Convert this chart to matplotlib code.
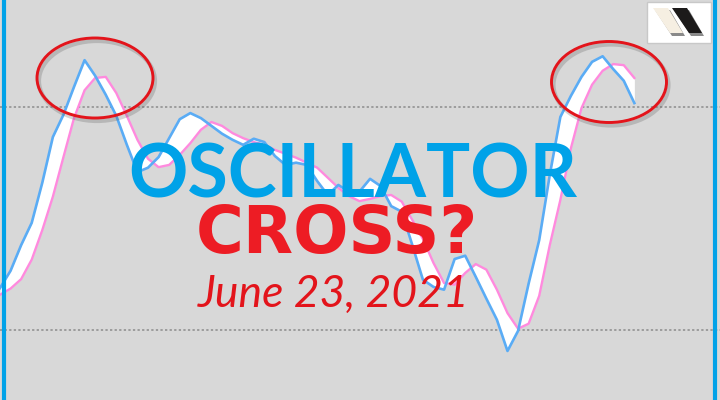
import numpy as np
import matplotlib.pyplot as plt
from matplotlib.patches import Ellipse, Polygon, Rectangle

# oscillator values (fast = blue, slow = pink)
fast_line = [37.5, 40.6, 45.2, 49.2, 56.4, 64.6, 68.6, 73.6, 78.4, 75.6,
             72.2, 68.4, 63.2, 58.3, 59.1, 61.0, 64.4, 67.8, 68.9, 68.0,
             66.6, 65.2, 64.1, 63.2, 64.3, 63.7, 61.2, 59.6, 60.0, 59.6,
             56.7, 54.2, 56.0, 54.8, 54.8, 57.1, 55.8, 52.2, 51.2, 45.2,
             39.0, 37.7, 37.2, 42.7, 43.3, 39.5, 35.6, 31.8, 26.2, 29.8,
             38.3, 46.1, 57.8, 68.2, 72.0, 75.4, 78.1, 79.1, 76.8, 74.7,
             70.7]
slow_line = [36.3, 37.4, 39.1, 42.6, 47.9, 53.9, 61.0, 68.0, 73.0, 75.2,
             75.4, 72.5, 68.4, 64.1, 60.7, 59.2, 59.6, 61.4, 63.5, 65.9,
             67.3, 66.6, 65.3, 64.4, 63.7, 63.2, 62.3, 61.6, 60.9, 60.0,
             59.1, 57.3, 55.5, 54.0, 53.1, 53.5, 54.0, 54.2, 53.0, 49.7,
             46.3, 42.0, 38.4, 38.1, 40.2, 41.8, 40.8, 37.2, 33.0, 30.2,
             31.1, 36.1, 45.2, 53.3, 62.6, 69.8, 74.0, 76.5, 77.7, 77.5,
             75.2]
levels = [70, 30]
title_top = "OSCILLATOR"
title_bottom = "CROSS?"
date_text = "June 23, 2021"

days = np.arange(len(fast_line))

W, H = 720, 400
def px(x, y):
    # figure pixel -> axes fraction (axes fills the figure)
    return (x / W, 1 - y / H)

fig = plt.figure(figsize=(7.2, 4), dpi=100)
fig.patch.set_facecolor('#d8d8d8')
ax = fig.add_axes([0, 0, 1, 1])
ax.set_xlim(0, 68.1)
ax.set_ylim(17.4, 89.2)
ax.axis('off')

for lv in levels:
    ax.axhline(lv, color='#8c8c8c', lw=1.1, ls=(0, (1.5, 1.5)), zorder=1)

ax.fill_between(days, fast_line, slow_line, color='white', lw=0, zorder=2)
ax.plot(days, slow_line, color='#ff8ade', lw=1.7, zorder=3)
ax.plot(days, fast_line, color='#5aacf5', lw=1.9, zorder=4)

# blue side bars
for x in (4, 715):
    ax.plot([x / W, x / W], [0, 1], color='#00a2e8', lw=3, transform=ax.transAxes,
            solid_capstyle='butt', zorder=6)

# circled peaks
for cx, cy, w, h in [(95, 78, 116, 80), (609, 82, 115, 81)]:
    sh = Ellipse(px(cx + 2, cy + 3), w / W, h / H, transform=ax.transAxes,
                 fill=False, ec='#555555', lw=3, alpha=0.25, zorder=7)
    ax.add_patch(sh)
    el = Ellipse(px(cx, cy), w / W, h / H, transform=ax.transAxes,
                 fill=False, ec='#e3141b', lw=2.1, zorder=8)
    ax.add_patch(el)

# titles
ax.text(*px(353, 198), title_top, transform=ax.transAxes, ha='center', va='baseline',
        fontsize=53, fontweight='bold', family='Lato', color='#00a2e8', zorder=9)
ax.text(*px(337, 253), title_bottom, transform=ax.transAxes, ha='center', va='baseline',
        fontsize=47, fontweight='bold', family='DejaVu Sans', color='#ed1c24', zorder=9)
ax.text(*px(334, 307), date_text, transform=ax.transAxes, ha='center', va='baseline',
        fontsize=32, fontstyle='italic', fontweight='normal', family='Lato',
        color='#e3141b', zorder=9)

# logo box
ax.add_patch(Rectangle(px(647, 43), 64 / W, 41 / H, transform=ax.transAxes,
                       fc='white', ec='#c8c8c8', lw=1, zorder=9))
for dx, col in [(0, '#f6efe2'), (19, '#1c1a1a')]:
    shadow = [px(655 + dx, 10), px(670 + dx, 10), px(685 + dx, 36), px(672 + dx, 36)]
    ax.add_patch(Polygon(shadow, closed=True, transform=ax.transAxes,
                         fc='#8a8a8a', ec='none', zorder=10))
    shape = [px(653 + dx, 8), px(668 + dx, 8), px(683 + dx, 33), px(670 + dx, 33)]
    ax.add_patch(Polygon(shape, closed=True, transform=ax.transAxes,
                         fc=col, ec='none', zorder=11))

fig.savefig('out.png', dpi=100, facecolor=fig.get_facecolor())
